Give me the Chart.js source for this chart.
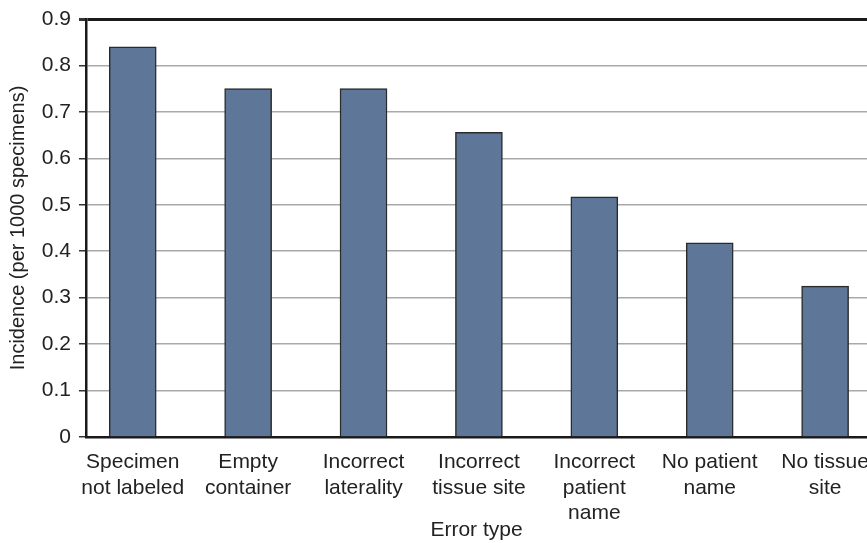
<!DOCTYPE html>
<html>
<head>
<meta charset="utf-8">
<script src="https://cdn.jsdelivr.net/npm/chart.js@4.4.1/dist/chart.umd.min.js"></script>
<style>
  html, body { margin: 0; padding: 0; background: #fff; }
  #wrap { width: 867px; height: 543px; }
</style>
</head>
<body>
<div id="wrap"><canvas id="graficoErrores"></canvas></div>
<script>
// Categories (multi-line labels), values and y tick labels
const categorias = [
  ["Specimen", "not labeled"],
  ["Empty", "container"],
  ["Incorrect", "laterality"],
  ["Incorrect", "tissue site"],
  ["Incorrect", "patient", "name"],
  ["No patient", "name"],
  ["No tissue", "site"]
];
const incidencia = [0.84, 0.75, 0.75, 0.656, 0.517, 0.418, 0.325];
const ticksY = [0, 0.1, 0.2, 0.3, 0.4, 0.5, 0.6, 0.7, 0.8, 0.9];

const fuente = "'Liberation Sans', Arial, Helvetica, sans-serif";

// The original is cropped on the right, so the x axis is linear with an offset range
const ctx = document.getElementById("graficoErrores").getContext("2d");
const grafico = new Chart(ctx, {
  type: "bar",
  data: {
    datasets: [
      {
        label: "Incidence",
        data: incidencia.map((v, i) => ({ x: i, y: v })),
        backgroundColor: "#5e7799",
        borderColor: "#2b2b2b",
        borderWidth: 1.5,
        barThickness: 47,
      },
    ],
  },
  options: {
    responsive: true,
    maintainAspectRatio: false,
    animation: false,
    layout: { padding: { top: 19, left: 0, right: 0, bottom: 0 } },
    plugins: {
      legend: { display: false },
      tooltip: { enabled: false },
    },
    scales: {
      x: {
        type: "linear",
        offset: false,
        min: -0.405,
        max: 6.363,
        afterBuildTicks: (scale) => {
          scale.ticks = categorias.map((c, i) => ({ value: i }));
        },
        afterFit: (scale) => {
          scale.height = 106;
          scale.paddingLeft = 0;
          scale.paddingRight = 0;
        },
        grid: { display: false, offset: false },
        border: { display: true, color: "#1a1a1a", width: 2.5 },
        ticks: {
          autoSkip: false,
          maxRotation: 0,
          padding: 5,
          color: "#222",
          font: { family: fuente, size: 21 },
          callback: (v) => categorias[v],
        },
        title: {
          display: true,
          text: "Error type",
          color: "#222",
          font: { family: fuente, size: 21 },
          padding: { top: 0, bottom: 0 },
        },
      },
      y: {
        min: 0,
        max: 0.9,
        afterBuildTicks: (scale) => {
          scale.ticks = ticksY.map((v) => ({ value: v }));
        },
        afterFit: (scale) => {
          scale.width = 86;
          scale.paddingTop = 0;
          scale.paddingBottom = 0;
        },
        grid: {
          color: (c) => (c.tick && Math.abs(c.tick.value - 0.9) < 1e-6 ? "#1a1a1a" : "#a9a9a9"),
          lineWidth: (c) => (c.tick && Math.abs(c.tick.value - 0.9) < 1e-6 ? 3 : 1.5),
          tickColor: "#333",
          tickLength: 7,
        },
        border: { display: true, color: "#1a1a1a", width: 2.5 },
        ticks: {
          padding: 8,
          color: "#222",
          font: { family: fuente, size: 21 },
          callback: (v) => String(v),
        },
        title: {
          display: true,
          text: "Incidence (per 1000 specimens)",
          color: "#222",
          font: { family: fuente, size: 20 },
          padding: { top: 6, bottom: 0 },
        },
      },
    },
  },
});
</script>
</body>
</html>
